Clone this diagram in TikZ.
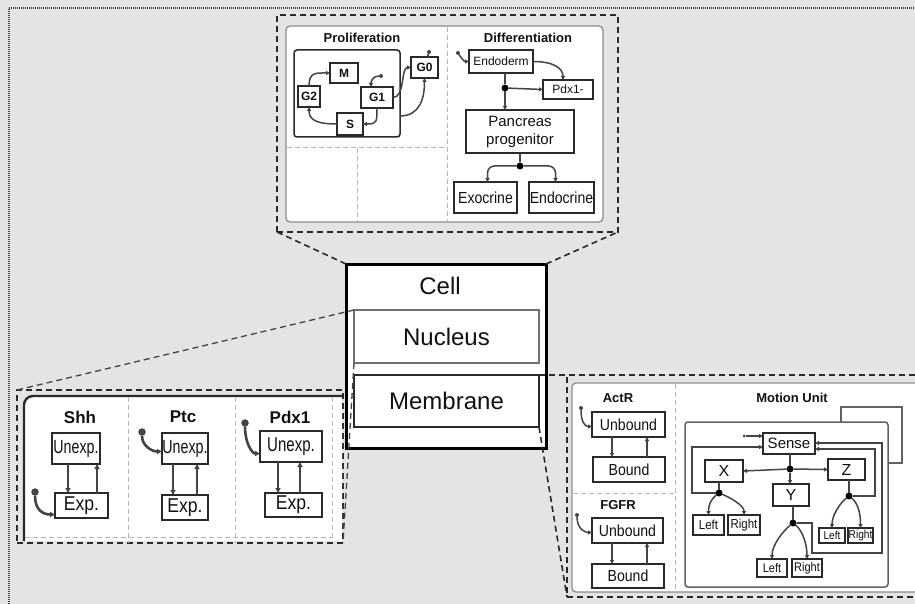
\documentclass[tikz,border=0pt]{standalone}
\usepackage{fontspec}
\setmainfont{Liberation Sans}
\newfontfamily\cA{Liberation Sans}[FakeStretch=0.75]
\newfontfamily\cB{Liberation Sans}[FakeStretch=0.88]
\usetikzlibrary{arrows.meta,calc}
\definecolor{bgc}{HTML}{E4E4E4}
\definecolor{dk}{HTML}{2A2A2A}
\definecolor{lnc}{HTML}{444444}
\definecolor{gr}{HTML}{8C8C8C}
\definecolor{lgr}{HTML}{B8B8B8}
\definecolor{txt}{HTML}{111111}
\newcommand\fsz[1]{\fontsize{#1}{#1}\selectfont}
\newcommand\mybox[7][]{\node[#1,minimum width={#5-#3},minimum height={#6-#4}] (#2) at ({(#3+#5)/2},{(#4+#6)/2}) {#7};}
\begin{document}
\begin{tikzpicture}[x=1pt,y=-1pt,
 every node/.style={inner sep=0pt,outer sep=0pt,text=txt},
 sb/.style={draw=dk,line width=1.5pt,fill=white},
 tb/.style={draw=dk,line width=2.5pt,fill=white},
 cyc/.style={sb,font=\bfseries\fsz{12}},
 ar/.style={draw=lnc,line width=1.5pt,-{Triangle[length=4pt,width=4pt]}},
 arT/.style={draw=lnc,line width=2.6pt,-{Triangle[length=5pt,width=5pt]}},
 lnk/.style={draw=lnc,line width=1.5pt},
 jn/.style={circle,fill=black,minimum size=7pt},
 srcd/.style={circle,fill=lnc,minimum size=4pt},
 srcT/.style={circle,fill=lnc,minimum size=7.5pt},
 odash/.style={draw=dk,line width=1.8pt,dash pattern=on 6pt off 4pt},
 cdash/.style={draw=dk,line width=1.6pt,dash pattern=on 6pt off 4pt},
 cdashL/.style={draw=lnc,line width=1.3pt,dash pattern=on 6pt off 4pt},
 ldash/.style={draw=lgr,line width=1pt,dash pattern=on 5pt off 3pt},
 panel/.style={draw=gr,line width=1.3pt,fill=white,rounded corners=4pt},
 ttl/.style={font=\bfseries\fsz{13}},
 ttlB/.style={font=\bfseries\fsz{17}},
]
\fill[bgc] (0,0) rectangle (915,604);
\useasboundingbox (0,0) rectangle (915,604);
\draw[draw=lnc,line width=2pt,dash pattern=on 1pt off 1pt] (9,604) -- (9,8) -- (915,8);

% ---------- top callout ----------
\mybox[odash]{topco}{277}{15}{618}{232}{}
\mybox[panel]{toppan}{286}{26}{603}{222}{}
\draw[ldash] (447,27) -- (447,221);
\draw[ldash] (287,148) -- (447,148);
\draw[ldash] (357,148) -- (357,221);
\node[ttl] (tprol) at (362,38) {Proliferation};
\node[ttl] (tdiff) at (528,38) {Differentiation};
\mybox[draw=dk,line width=1.5pt,rounded corners=3pt]{prolbox}{294}{50}{400}{137}{}
\mybox[cyc]{M}{330}{63}{358}{83}{M}
\mybox[cyc]{G2}{298}{86}{320}{107}{G2}
\mybox[cyc]{G1}{361}{87}{393}{108}{G1}
\mybox[cyc]{S}{337}{113}{363}{135}{S}
\mybox[cyc]{G0}{411}{57}{438}{78}{G0}
\draw[ar] (S.west) .. controls +(-18,0) and +(0,14) .. (G2.south);
\draw[ar] (G2.north) .. controls +(0,-14) and +(-14,0) .. (M.west);
\draw[ar] (G1.south) .. controls +(0,14) and +(14,0) .. (S.east);
\node[srcd] (g1s) at (381,76) {};
\draw[ar] (g1s) .. controls +(-8,0) and +(0,-6) .. ($(G1.north)+(-6,0)$);
\draw[ar] (G1.east) .. controls +(12,0) and +(-10,0) .. (G0.west);
\coordinate (pbo) at (400,116);
\draw[ar] (pbo) .. controls +(20,0) and +(0,20) .. (G0.south);
\node[srcd] (g0s) at (429,52) {};
\draw[lnk] (g0s) -- ($(G0.north)+(3,0)$);

\mybox[sb,font=\fsz{12}]{endo}{469}{50}{533}{73}{Endoderm}
\node[srcd] (ends) at (458,53) {};
\draw[ar] (ends) .. controls +(4,6) and +(-5,0) .. (endo.west);
\mybox[sb,font=\fsz{12}]{pdx}{543}{80}{593}{99}{Pdx1-}
\draw[ar] (endo.east) .. controls +(20,0) and +(0,-12) .. ($(pdx.north)+(-5,0)$);
\node[jn] (j1) at (505,88) {};
\draw[lnk] (j1 |- endo.south) -- (j1);
\draw[ar] (j1) -- (pdx.west);
\mybox[sb,font=\fontsize{15}{18}\selectfont,align=center]{panc}{466}{110}{574}{153}{Pancreas\\progenitor}
\draw[ar] (j1) -- (j1 |- panc.north);
\node[jn] (j2) at (520,166) {};
\draw[lnk] (j2 |- panc.south) -- (j2);
\mybox[sb,font=\cB\fsz{16}]{exo}{454}{182}{517}{213}{Exocrine}
\mybox[sb,font=\cB\fsz{16}]{endc}{529}{182}{594}{213}{Endocrine}
\draw[ar,rounded corners=7pt] (j2) -| ($(exo.north)+(2,0)$);
\draw[ar,rounded corners=7pt] (j2) -| ($(endc.north)+(-6,0)$);

% ---------- cell ----------
\mybox[draw=black,line width=3pt,fill=white]{cell}{346}{264}{546}{448}{}
\node[font=\fsz{24}] (cellt) at (440,286) {Cell};
\mybox[draw=gr!80!black,line width=1.8pt,fill=white,font=\fsz{24}]{nuc}{354}{310}{539}{363}{Nucleus}
\mybox[draw=dk,line width=2.6pt,fill=white,font=\fsz{24}]{mem}{354}{375}{539}{427}{Membrane}

% ---------- bottom-left callout ----------
\mybox[odash]{blco}{17}{390}{343}{543}{}
\fill[white,rounded corners=9pt] (24,396) rectangle (342,541);
\fill[white] (60,396) rectangle (342,541);
\fill[white] (24,430) rectangle (342,541);
\draw[draw=dk,line width=2.4pt,rounded corners=9pt] (24,541) -- (24,396) -- (342,396);
\draw[ldash] (25,537) -- (332,537);
\draw[ldash] (332,397) -- (332,541);
\draw[ldash] (128,397) -- (128,543);
\draw[ldash] (235,397) -- (235,543);
\node[ttlB] (tshh) at (80,417) {Shh};
\node[ttlB] (tptc) at (183,417) {Ptc};
\node[ttlB] (tpdx) at (290,417) {Pdx1};
\mybox[tb,font=\cA\fsz{19}]{shU}{52}{433}{100}{464}{Unexp.}
\mybox[tb,font=\cB\fsz{20}]{shE}{55}{493}{108}{518}{Exp.}
\mybox[tb,font=\cA\fsz{19}]{ptU}{162}{433}{208}{464}{Unexp.}
\mybox[tb,font=\cB\fsz{20}]{ptE}{162}{495}{208}{520}{Exp.}
\mybox[tb,font=\cA\fsz{20}]{pdU}{260}{431}{322}{462}{Unexp.}
\mybox[tb,font=\cB\fsz{20}]{pdE}{265}{493}{322}{517}{Exp.}
\draw[arT] ($(shU.south)+(-8,0)$) -- ($(shE.north)+(-13.5,0)$);
\draw[arT] ($(shE.north)+(15.5,0)$) -- ($(shU.south)+(21,0)$);
\draw[arT] ($(ptU.south)+(-12,0)$) -- ($(ptE.north)+(-12,0)$);
\draw[arT] ($(ptE.north)+(12,0)$) -- ($(ptU.south)+(12,0)$);
\draw[arT] ($(pdU.south)+(-13,0)$) -- ($(pdE.north)+(-15.5,0)$);
\draw[arT] ($(pdE.north)+(6.5,0)$) -- ($(pdU.south)+(9,0)$);
\node[srcT] (shs) at (35,492) {};
\draw[arT] (shs) .. controls +(0,18) and +(-12,0) .. ($(shE.west)+(0,9)$);
\node[srcT] (pts) at (142,432) {};
\draw[arT] (pts) .. controls +(0,14) and +(-10,0) .. ($(ptU.west)+(0,3)$);
\node[srcT] (pds) at (245,423) {};
\draw[arT] (pds) .. controls +(0,20) and +(-8,0) .. ($(pdU.west)+(0,7)$);

% ---------- right callout ----------
\mybox[odash]{rco}{567}{375}{930}{597}{}
\mybox[panel]{rpan}{572}{383}{925}{592}{}
\draw[ldash] (675,384) -- (675,591);
\draw[ldash] (573,493) -- (675,493);
\node[ttl] (tact) at (618,398) {ActR};
\node[ttl] (tfgf) at (618,505) {FGFR};
\node[ttl] (tmot) at (792,398) {Motion Unit};
\mybox[sb,font=\cB\fsz{16}]{aU}{592}{412}{665}{437}{Unbound}
\mybox[sb,font=\cB\fsz{16}]{aB}{593}{457}{665}{482}{Bound}
\draw[ar] ($(aU.south)+(-16.5,0)$) -- ($(aB.north)+(-17,0)$);
\draw[ar] ($(aB.north)+(18,0)$) -- ($(aU.south)+(18.5,0)$);
\node[srcd] (as) at (581,408) {};
\draw[ar] (as) .. controls +(0,14) and +(-7,0) .. ($(aU.west)+(0,2)$);
\mybox[sb,font=\cB\fsz{16}]{fU}{592}{518}{663}{543}{Unbound}
\mybox[sb,font=\cB\fsz{16}]{fB}{592}{564}{664}{588}{Bound}
\draw[ar] ($(fU.south)+(-15.5,0)$) -- ($(fB.north)+(-16,0)$);
\draw[ar] ($(fB.north)+(19,0)$) -- ($(fU.south)+(19.5,0)$);
\node[srcd] (fs) at (577,515) {};
\draw[ar] (fs) .. controls +(0,14) and +(-7,0) .. ($(fU.west)+(0,2)$);

\mybox[draw=gr!70!black,line width=1.5pt,fill=white]{mback}{841}{407}{902}{463}{}
\mybox[draw=gr!70!black,line width=1.5pt,fill=white,rounded corners=3pt]{mmain}{685}{422}{888}{587}{}
\mybox[sb,font=\fsz{15}]{sense}{763}{433}{815}{454}{Sense}
\node[srcd,minimum size=3pt] (ss) at (744,436) {};
\draw[ar] (ss) -- (ss -| sense.west);
\node[jn] (j0) at (790,469) {};
\draw[lnk] (j0 |- sense.south) -- (j0);
\mybox[sb,font=\fsz{16}]{X}{705}{460}{743}{482}{X}
\mybox[sb,font=\fsz{16}]{Z}{828}{459}{865}{480}{Z}
\mybox[sb,font=\fsz{16}]{Y}{773}{484}{809}{506}{Y}
\draw[ar] (j0) -- (X.east);
\draw[ar] (j0) -- (Z.west);
\draw[ar] (j0) -- (j0 |- Y.north);
\node[jn] (jx) at (719,493) {};
\draw[lnk] (jx |- X.south) -- (jx);
\mybox[sb,font=\cB\fsz{13}]{xL}{693}{515}{724}{535}{Left}
\mybox[sb,font=\cB\fsz{13}]{xR}{728}{515}{760}{535}{Right}
\draw[ar] (jx) .. controls +(-8,6) and +(0,-10) .. (xL.north);
\draw[ar] (jx) .. controls +(10,4) and +(0,-10) .. (xR.north);
\node[jn] (jy) at (793,523) {};
\draw[lnk] (jy |- Y.south) -- (jy);
\mybox[sb,font=\cB\fsz{12.5}]{yL}{757}{559}{787}{577}{Left}
\mybox[sb,font=\cB\fsz{12.5}]{yR}{792}{559}{822}{577}{Right}
\draw[ar] (jy) .. controls +(-10,8) and +(0,-14) .. (yL.north);
\draw[ar] (jy) .. controls +(10,8) and +(0,-14) .. (yR.north);
\node[jn] (jz) at (849,496) {};
\draw[lnk] (jz |- Z.south) -- (jz);
\mybox[sb,font=\cB\fsz{11.5}]{zL}{819}{528}{845}{543}{Left}
\mybox[sb,font=\cB\fsz{11.5}]{zR}{848}{528}{873}{543}{Right}
\draw[ar] (jz) .. controls +(-10,8) and +(0,-12) .. (zL.north);
\draw[ar] (jz) .. controls +(10,8) and +(0,-12) .. (zR.north);
\coordinate (xl) at (692,447);
\draw[ar] (jx) -| (xl) -- (xl -| sense.west);
\coordinate (yl1) at (812,553);
\coordinate (yl2) at (882,443);
\draw[ar] (jy) -| (yl1) -| (yl2) -- (yl2 -| sense.east);
\coordinate (zl) at (875,449);
\draw[ar] (jz) -| (zl) -- (zl -| sense.east);

% ---------- callout connectors ----------
\draw[cdash] (cell.north west) -- (topco.south west);
\draw[cdash] (cell.north east) -- (topco.south east);
\draw[cdashL] (nuc.north west) -- (blco.north west);
\draw[cdashL] (nuc.south west) -- (blco.south east);
\draw[cdash] (mem.north east) -- (rco.north east);
\draw[cdash] (mem.south east) -- (rco.south west);
\end{tikzpicture}
\end{document}
